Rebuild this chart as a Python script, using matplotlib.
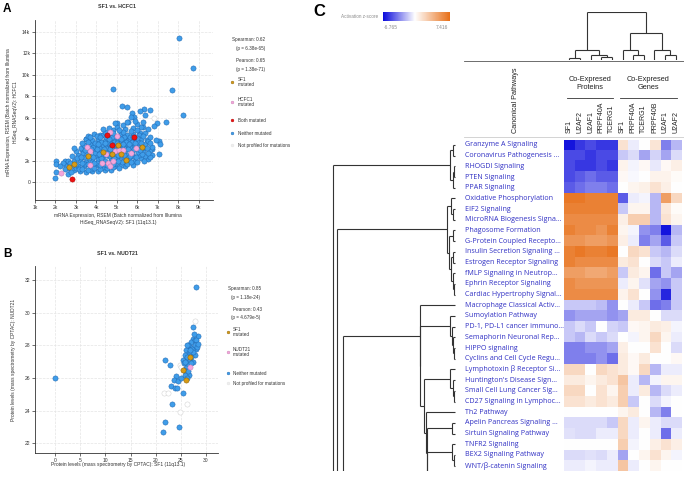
import numpy as np
import matplotlib
matplotlib.use('Agg')
import matplotlib.pyplot as plt
from matplotlib.collections import LineCollection
from matplotlib.colors import LinearSegmentedColormap, TwoSlopeNorm

W, H = 684, 477
SANS = ['Liberation Sans', 'DejaVu Sans']
ROWFONT = ['Open Sans', 'DejaVu Sans']

# ---------------- panel A: SF1 vs HCFC1 (values in thousands) ----------------
a_neither = [
    (8.03, 13.46), (8.74, 10.6), (7.69, 8.6), (4.8, 8.63), (8.22, 6.26), (5.25, 7.07),
    (5.48, 7.0), (6.31, 6.76), (6.6, 6.7), (6.11, 6.6), (5.76, 6.45), (5.84, 6.07),
    (7.4, 5.6), (6.97, 5.48), (6.81, 5.23), (7.04, 3.86), (7.12, 3.5), (7.04, 2.6),
    (6.71, 3.1), (6.45, 3.95), (5.0, 5.48), (5.56, 5.6), (6.28, 5.08), (6.11, 4.58),
    (4.81, 4.89), (5.22, 4.58), (3.48, 4.02), (4.17, 4.42), (5.46, 4.17),
    (1.98, 0.37), (2.05, 0.9), (2.62, 0.78), (2.46, 1.93), (2.5, 1.71), (2.62, 1.31),
    (2.02, 1.93), (2.02, 1.71),
    (2.9, 1.1), (3.2, 1.0), (3.5, 0.95), (3.8, 1.05), (4.1, 1.0), (4.4, 1.1), (4.7, 1.15),
    (5.4, 1.45), (3.0, 1.3), (2.75, 0.9),
    (2.5, 1.5), (2.8, 1.55), (3.1, 1.5), (3.4, 1.45), (3.7, 1.5), (4.0, 1.55), (4.3, 1.4),
    (4.6, 1.5), (4.9, 1.45), (5.2, 1.6), (5.5, 1.7), (5.8, 1.6),
    (2.6, 2.0), (2.9, 1.95), (3.2, 2.05), (3.5, 1.9), (3.8, 2.0), (4.1, 2.1), (4.4, 1.95),
    (4.7, 2.05), (5.0, 2.1), (5.3, 2.0), (5.6, 2.15), (5.9, 2.0), (6.2, 2.2), (6.5, 2.1),
    (2.8, 2.4), (3.1, 2.5), (3.4, 2.35), (3.7, 2.45), (4.0, 2.5), (4.3, 2.4), (4.6, 2.45),
    (4.9, 2.5), (5.2, 2.4), (5.5, 2.5), (5.8, 2.45), (6.1, 2.55), (6.4, 2.4), (6.7, 2.5),
    (3.0, 2.9), (3.3, 3.0), (3.6, 2.85), (3.9, 2.95), (4.2, 3.0), (4.5, 2.9), (4.8, 3.05),
    (5.1, 2.9), (5.4, 3.0), (5.7, 2.95), (6.0, 3.1), (6.3, 2.9), (6.6, 3.0), (2.9, 3.15),
    (3.25, 3.2),
    (3.4, 3.4), (3.7, 3.5), (4.0, 3.35), (4.3, 3.45), (4.6, 3.4), (4.9, 3.5), (5.2, 3.35),
    (5.5, 3.45), (5.8, 3.5), (6.1, 3.4), (6.4, 3.55), (6.9, 3.9), (6.7, 3.3),
    (3.5, 4.0), (3.8, 3.9), (4.1, 4.0), (4.4, 3.85), (4.7, 3.95), (5.0, 4.0), (5.3, 3.9),
    (5.6, 4.05), (5.9, 3.9), (6.2, 4.0), (6.5, 3.85),
    (3.9, 4.5), (4.3, 4.4), (4.6, 4.5), (4.9, 4.3), (5.2, 4.45), (5.5, 4.4), (5.8, 4.5),
    (6.1, 4.35), (6.4, 4.6), (3.6, 4.3),
    (4.6, 5.0), (5.0, 5.1), (5.4, 4.95), (5.8, 5.0), (6.2, 5.1), (6.5, 4.9), (6.0, 5.4),
    (5.3, 5.3), (5.5, 5.6), (5.9, 5.7), (6.3, 5.6), (5.7, 6.1), (6.4, 6.2), (4.9, 5.5),
    (3.15, 1.25), (3.45, 1.7), (3.75, 1.25), (4.05, 1.8), (4.35, 1.7), (4.65, 1.8),
    (4.95, 1.75), (5.25, 1.85), (3.05, 2.25), (3.35, 2.7), (3.65, 2.2), (3.95, 2.7),
    (4.25, 2.25), (4.55, 2.7), (4.85, 2.25), (5.15, 2.7), (5.45, 2.25), (5.75, 2.7),
    (6.05, 2.75), (3.55, 3.15), (3.85, 3.25), (4.15, 3.2), (4.45, 3.15), (4.75, 3.25),
    (5.05, 3.2), (5.35, 3.15), (5.65, 3.25), (5.95, 3.2), (6.25, 3.2), (3.95, 3.65),
    (4.25, 3.7), (4.55, 3.65), (4.85, 3.75), (5.15, 3.65), (5.45, 3.75), (5.75, 3.7),
    (6.05, 3.7), (4.45, 4.15), (4.75, 4.2), (5.05, 4.2), (5.35, 4.15), (5.65, 4.2),
    (4.05, 4.3), (6.3, 4.3), (2.35, 1.75), (2.2, 1.45), (2.45, 1.25),
    (3.3, 1.2), (3.6, 1.15), (3.9, 1.3), (4.2, 1.25), (4.5, 1.3), (4.8, 1.35), (5.1, 1.3),
    (2.7, 1.75), (3.0, 1.7), (3.3, 1.8), (3.6, 1.65), (3.9, 1.75), (4.2, 1.6), (4.5, 1.55),
    (4.8, 1.65), (5.05, 1.95), (5.7, 1.9), (6.0, 1.85), (6.35, 2.0), (6.6, 2.3),
    (3.25, 2.3), (3.55, 2.6), (3.85, 2.3), (4.15, 2.6), (4.45, 2.55), (4.75, 2.6),
    (5.05, 2.55), (5.35, 2.55), (5.65, 2.4), (5.95, 2.3), (6.25, 2.65), (6.5, 2.7),
    (3.45, 2.95), (3.75, 3.05), (4.05, 3.1), (4.35, 3.05), (4.65, 3.1), (4.95, 3.0),
    (5.25, 3.05), (5.55, 3.1), (5.85, 3.05), (6.15, 3.0), (6.45, 3.2), (3.3, 3.6),
    (3.6, 3.7), (4.1, 3.55), (4.4, 3.6), (4.7, 3.55), (5.0, 3.6), (5.3, 3.55), (5.6, 3.55),
    (5.9, 3.6), (6.2, 3.6), (6.6, 3.6), (3.7, 4.15), (4.2, 4.2), (4.6, 4.05), (5.2, 4.05),
    (5.8, 4.2), (6.0, 4.1), (6.6, 4.2), (4.4, 4.65), (4.8, 4.6), (5.3, 4.7), (5.7, 4.75),
    (6.0, 4.8), (4.3, 4.9), (5.1, 4.85),
]
a_sf1_mut = [(2.67, 1.37), (2.9, 1.68), (3.61, 2.4), (4.34, 2.77), (4.77, 2.65),
             (5.07, 3.4), (5.2, 2.62), (5.43, 2.09), (6.21, 3.24)]
a_hcfc1_mut = [(2.25, 0.84), (3.55, 3.24), (3.68, 2.87), (3.68, 1.62), (4.26, 1.78),
               (4.46, 2.65), (4.59, 1.78), (4.69, 4.7), (5.01, 4.33), (4.9, 2.93),
               (5.11, 2.96), (4.81, 1.93), (4.65, 1.53), (5.68, 2.71), (5.95, 3.15),
               (5.32, 2.96)]
a_both_mut = [(2.79, 0.28), (4.52, 4.36), (4.78, 3.43), (5.85, 4.2)]
a_not_prof = [(6.81, 6.0), (5.46, 5.05), (5.6, 4.85)]

# ---------------- panel B: SF1 vs NUDT21 protein levels ----------------
b_neither = [
    (0.0, 26.0), (28.0, 31.6), (27.5, 29.1), (28.5, 28.6), (27.5, 28.4), (27.1, 28.2),
    (27.8, 28.3), (28.1, 28.3), (28.0, 27.8), (26.9, 27.9), (26.5, 28.0), (26.1, 27.7),
    (26.6, 27.5), (27.1, 27.5), (25.8, 27.4), (26.1, 27.1), (26.8, 27.1), (27.5, 27.0),
    (25.4, 27.1), (25.7, 26.9), (26.5, 26.8), (26.1, 26.6), (21.8, 27.1), (22.8, 26.8),
    (24.0, 26.1), (23.6, 25.9), (23.0, 25.5), (23.8, 25.4), (24.2, 25.4), (24.5, 25.8),
    (25.1, 26.0), (25.5, 25.1), (26.7, 26.2), (23.3, 24.4), (21.8, 23.3), (21.4, 22.7),
    (24.6, 23.0), (27.3, 27.8), (27.8, 28.0), (28.3, 27.9), (27.0, 26.9), (26.3, 27.3),
    (25.9, 26.2), (26.3, 26.0), (25.6, 26.5), (27.8, 27.4), (27.4, 27.6), (26.9, 27.7),
    (25.9, 27.0), (26.4, 26.4), (27.0, 27.3), (28.5, 28.1), (27.7, 28.7), (26.2, 28.0),
]
b_sf1_mut = [(26.9, 27.3), (25.5, 26.5), (26.1, 25.9)]
b_nudt21_mut = [(26.9, 26.7)]
b_not_prof = [(27.8, 29.5), (21.6, 25.1), (22.4, 25.1), (24.8, 23.9), (26.3, 24.4),
              (24.8, 26.8), (25.1, 26.7)]

# ---------------- panel C: IPA activation z-scores ----------------
col_names = ['SF1', 'U2AF2', 'U2AF1', 'PRPF40A', 'TCERG1',
             'SF1', 'PRPF40A', 'TCERG1', 'PRPF40B', 'U2AF1', 'U2AF2']
pathways = [
    'Granzyme A Signaling', 'Coronavirus Pathogenesis ...', 'RHOGDI Signaling',
    'PTEN Signaling', 'PPAR Signaling', 'Oxidative Phosphorylation', 'EIF2 Signaling',
    'MicroRNA Biogenesis Signa...', 'Phagosome Formation', 'G-Protein Coupled Recepto...',
    'Insulin Secretion Signaling ...', 'Estrogen Receptor Signaling',
    'fMLP Signaling in Neutrop...', 'Ephrin Receptor Signaling',
    'Cardiac Hypertrophy Signal...', 'Macrophage Classical Activ...', 'Sumoylation Pathway',
    'PD-1, PD-L1 cancer immuno...', 'Semaphorin Neuronal Rep...', 'HIPPO signaling',
    'Cyclins and Cell Cycle Regu...', 'Lymphotoxin β Receptor Si...',
    "Huntington's Disease Sign...", 'Small Cell Lung Cancer Sig...',
    'CD27 Signaling in Lymphoc...', 'Th2 Pathway', 'Apelin Pancreas Signaling ...',
    'Sirtuin Signaling Pathway', 'TNFR2 Signaling', 'BEX2 Signaling Pathway',
    'WNT/β-catenin Signaling',
]
zscores = [
    [-6.5, -5.5, -5.0, -5.5, -5.5, 1.5, -0.5, 0.0, 1.3, -3.5, -2.0],
    [-5.0, -5.0, -5.5, -5.0, -5.0, -1.5, -1.0, -2.5, -1.2, -2.5, -1.0],
    [-5.0, -5.5, -5.5, -5.0, -5.5, 0.6, -0.3, 0.3, -0.6, 0.3, 0.8],
    [-5.0, -4.5, -4.0, -4.5, -4.5, 0.3, -0.2, 0.0, 0.6, 0.6, 0.2],
    [-4.5, -4.0, -3.5, -3.5, -4.0, 0.0, 0.5, 0.7, 1.5, 0.8, 0.0],
    [7.0, 7.0, 6.5, 6.5, 6.5, -4.5, -0.5, -0.3, -2.0, 5.0, 2.0],
    [6.5, 6.5, 6.5, 6.5, 6.5, -1.5, 0.5, 0.5, -2.0, 1.2, 0.2],
    [6.0, 6.0, 6.0, 6.0, 6.0, 0.8, 2.5, 2.5, -2.0, 1.5, 0.5],
    [6.5, 6.0, 6.0, 5.5, 6.5, 0.5, -0.3, -3.0, -3.5, -6.5, -2.0],
    [5.5, 5.5, 5.0, 5.0, 5.5, 0.8, -0.5, -3.5, -2.5, -4.5, -1.5],
    [6.5, 7.0, 6.5, 6.5, 7.0, 0.0, 2.0, 1.5, -1.5, -2.0, -1.0],
    [6.5, 6.0, 6.0, 6.0, 6.0, 1.0, 1.5, 0.0, -1.0, -1.5, -0.5],
    [5.0, 5.0, 4.5, 4.5, 5.0, -1.5, 1.0, 0.5, -4.0, -1.5, -2.5],
    [6.0, 5.5, 5.5, 5.5, 5.5, -0.5, 0.5, -0.8, -2.5, -3.0, -1.5],
    [6.0, 6.0, 6.0, 6.0, 6.0, 0.6, 1.5, 0.0, -3.0, -6.0, -1.5],
    [-1.5, -1.5, -1.5, -1.8, -3.0, 0.0, -0.5, -1.5, -4.0, -3.5, -1.5],
    [-3.0, -2.5, -2.5, -2.5, -3.0, -2.5, 1.0, 1.0, 0.0, -1.0, -1.0],
    [-1.5, -1.0, -1.5, 0.0, -1.2, -1.5, 0.3, 0.5, 1.0, 0.8, -0.3],
    [-1.5, -2.0, -1.0, -1.5, -1.0, 0.0, -0.3, 0.5, 2.0, 0.5, -0.5],
    [-3.5, -3.5, -3.0, -3.0, -2.5, 0.8, 0.0, 0.0, 1.5, 0.0, -1.0],
    [-3.5, -3.5, -3.5, -3.0, -4.0, 1.0, 0.3, 1.0, 0.0, 0.0, 0.3],
    [2.0, 2.0, 0.0, 2.0, 1.5, 1.0, 0.3, 2.0, -2.0, -0.5, -0.5],
    [1.0, 1.0, 0.5, 1.0, 1.5, 3.0, -0.5, -2.0, -0.3, 0.5, 0.5],
    [2.0, 2.0, 0.0, 1.5, 0.5, 2.5, -0.5, 1.0, -2.0, -1.0, -0.5],
    [1.5, 1.5, 1.0, 1.5, 1.0, 2.5, -1.5, 0.0, -1.0, -0.3, 0.0],
    [0.0, 0.0, 0.0, 0.0, 0.0, 0.5, 1.0, 0.0, -2.0, -3.5, 0.0],
    [-1.0, -1.0, -1.0, -1.0, -1.5, 2.0, -0.5, 0.5, -0.5, -1.0, -1.0],
    [-0.8, -1.0, -1.0, -0.5, -0.5, 2.0, -0.5, 0.0, -0.5, -4.0, -0.5],
    [0.0, 0.0, 0.0, 0.0, 0.0, 2.5, -0.3, 0.0, 0.8, 1.5, 0.8],
    [-1.0, -1.0, -0.8, -1.0, -0.5, -2.5, 0.0, 0.5, 1.5, 0.5, -0.3],
    [-0.5, -0.5, -0.3, -0.5, -0.5, 3.0, -0.5, 0.0, 0.5, 0.0, 0.0],
]
z_min, z_max = -6.765, 7.416

# dendrograms: (left, right, height); plain numbers are leaf indices.
# leaves 33.5 and 100 stand for rows cut off below the visible table
c1 = ((0, 1, 2), ((2, 3, 1), 4, 2), 5)
c2 = ((5, (6, 7, 2), 4), ((8, 9, 2), ((10, 11, 2), (12, (13, 14, 1), 2), 4), 6), 8)
sumo = (16, (17, (18, (19, 20, 1), 2), 3), 5)
lympho = (21, (22, (23, 24, 1), 2), 5)
chain = (25, ((26, 27, 3), ((28, (29, 30, 1), 3), 33.5, 28), 28.5), 29)
c3 = (15, (sumo, (lympho, chain, 31), 35), 35.5)
row_tree = (c1, (c2, (c3, 100, 112), 118), 122)
col_tree = (((0, 1, 2), (2, (3, 4, 3), 5), 10), ((5, (6, 7, 5), 10), (8, (9, 10, 5), 10), 27), 48)


def box(x0, y0, x1, y1):
    return [x0 / W, 1 - y1 / H, (x1 - x0) / W, (y1 - y0) / H]


def tree_segments(node, segs):
    """Collect the elbow segments of a dendrogram as (pos, height) pairs."""
    if not isinstance(node, tuple):
        return node, 0
    left, right, h = node
    pl, hl = tree_segments(left, segs)
    pr, hr = tree_segments(right, segs)
    segs.append([(pl, hl), (pl, h)])
    segs.append([(pl, h), (pr, h)])
    segs.append([(pr, h), (pr, hr)])
    return (pl + pr) / 2, h


def draw_tree(ax, tree, horizontal):
    segs = []
    tree_segments(tree, segs)
    if horizontal:
        segs = [[(h, p) for p, h in s] for s in segs]
    ax.add_collection(LineCollection(segs, colors='#333333', linewidths=0.8))


def scatter_set(ax, pts, face, edge, z):
    xs = [p[0] for p in pts]
    ys = [p[1] for p in pts]
    ax.scatter(xs, ys, s=14, c=face, edgecolors=edge, linewidths=0.35, zorder=z)


def style_axes(ax):
    for s in ['top', 'right']:
        ax.spines[s].set_visible(False)
    for s in ['left', 'bottom']:
        ax.spines[s].set_linewidth(0.6)
        ax.spines[s].set_color('#333333')
    ax.tick_params(labelsize=3.6, length=2, width=0.5, pad=1.5, colors='#333333')
    ax.grid(True, color='#e4e4e4', linestyle='--', lw=0.5)
    ax.set_axisbelow(True)
    for lab in ax.get_xticklabels() + ax.get_yticklabels():
        lab.set_family(SANS)


fig = plt.figure(figsize=((W + 0.01) / 100, (H + 0.01) / 100), dpi=100)
ov = fig.add_axes([0, 0, 1, 1])
ov.set_xlim(0, W)
ov.set_ylim(H, 0)
ov.axis('off')

BLUE, BLUE_E = '#3f9de9', '#1e66b0'
GOLD, GOLD_E = '#d79b16', '#8a6108'
PINK, PINK_E = '#f4a6dc', '#c77fb0'
RED, RED_E = '#ee1111', '#aa0000'
NP, NP_E = '#ffffff', '#cfcfcf'

# ---- panel A ----
axa = fig.add_axes(box(35, 20, 213, 200))
scatter_set(axa, a_not_prof, NP, NP_E, 2)
scatter_set(axa, a_neither, BLUE, BLUE_E, 3)
scatter_set(axa, a_hcfc1_mut, PINK, PINK_E, 4)
scatter_set(axa, a_sf1_mut, GOLD, GOLD_E, 5)
scatter_set(axa, a_both_mut, RED, RED_E, 6)
axa.set_xlim(1, 9.7)
axa.set_ylim(-1.68, 15.1)
axa.set_xticks(range(1, 10))
axa.set_xticklabels([f'{v}k' for v in range(1, 10)])
axa.set_yticks(range(0, 15, 2))
axa.set_yticklabels(['0'] + [f'{v}k' for v in range(2, 15, 2)])
style_axes(axa)

# ---- panel B ----
axb = fig.add_axes(box(35, 266, 218, 453))
scatter_set(axb, b_not_prof, NP, NP_E, 2)
scatter_set(axb, b_neither, BLUE, BLUE_E, 3)
scatter_set(axb, b_nudt21_mut, PINK, PINK_E, 4)
scatter_set(axb, b_sf1_mut, GOLD, GOLD_E, 5)
axb.set_xlim(-4, 32.4)
axb.set_ylim(21.4, 32.86)
axb.set_xticks(range(0, 31, 5))
axb.set_yticks(range(22, 33, 2))
style_axes(axb)

txt = dict(family=SANS, color='#333333')
ov.text(7, 9, 'A', fontsize=8.5, fontweight='bold', ha='center', va='center', family=SANS)
ov.text(7, 254, 'B', fontsize=8.5, fontweight='bold', ha='center', va='center', family=SANS)
ov.text(117, 6, 'SF1 vs. HCFC1', fontsize=3.8, fontweight='bold', ha='center', va='center', **txt)
ov.text(117, 253, 'SF1 vs. NUDT21', fontsize=3.8, fontweight='bold', ha='center', va='center', **txt)
ov.text(118, 219, 'mRNA Expression, RSEM (Batch normalized from Illumina\nHiSeq_RNASeqV2): SF1 (11q13.1)',
        fontsize=3.5, ha='center', va='center', linespacing=1.3, **txt)
ov.text(12, 112, 'mRNA Expression, RSEM (Batch normalized from Illumina\nHiSeq_RNASeqV2): HCFC1',
        fontsize=3.5, ha='center', va='center', rotation=90, linespacing=1.3, **txt)
ov.text(118, 464, 'Protein levels (mass spectrometry by CPTAC): SF1 (11q13.1)',
        fontsize=3.5, ha='center', va='center', **txt)
ov.text(13, 360, 'Protein levels (mass spectrometry by CPTAC): NUDT21',
        fontsize=3.5, ha='center', va='center', rotation=90, **txt)

# legends
leg = dict(fontsize=3.3, va='center', ha='left', **txt)
ov.text(232, 39, 'Spearman: 0.62', **leg)
ov.text(236, 48, '(p = 6.38e-65)', **leg)
ov.text(236, 60, 'Pearson: 0.65', **leg)
ov.text(236, 69, '(p = 1.38e-71)', **leg)
ov.text(238, 82, 'SF1\nmutated', linespacing=1.1, **leg)
ov.text(238, 102, 'HCFC1\nmutated', linespacing=1.1, **leg)
ov.text(238, 120, 'Both mutated', **leg)
ov.text(238, 133, 'Neither mutated', **leg)
ov.text(238, 145, 'Not profiled for mutations', **leg)
for y, f, e in [(82, GOLD, GOLD_E), (102, PINK, PINK_E), (120, RED, RED_E),
                (133, BLUE, BLUE_E), (145, '#eeeeee', '#e0e0e0')]:
    ov.scatter([232], [y], s=4, c=f, edgecolors=e, linewidths=0.3)

ov.text(228, 288, 'Spearman: 0.85', **leg)
ov.text(231, 297, '(p = 1.18e-24)', **leg)
ov.text(233, 309, 'Pearson: 0.43', **leg)
ov.text(231, 317, '(p = 4.679e-5)', **leg)
ov.text(233, 332, 'SF1\nmutated', linespacing=1.1, **leg)
ov.text(233, 352, 'NUDT21\nmutated', linespacing=1.1, **leg)
ov.text(233, 373, 'Neither mutated', **leg)
ov.text(233, 383, 'Not profiled for mutations', **leg)
for y, f, e in [(332, GOLD, GOLD_E), (352, PINK, PINK_E), (373, BLUE, BLUE_E),
                (383, '#eeeeee', '#e0e0e0')]:
    ov.scatter([228], [y], s=4, c=f, edgecolors=e, linewidths=0.3)

# ---- panel C ----
cmap = LinearSegmentedColormap.from_list('act', ['#0b0bdc', '#ffffff', '#e8711a'])
norm = TwoSlopeNorm(vmin=z_min, vcenter=0, vmax=z_max)

ov.text(319, 11, 'C', fontsize=12, fontweight='bold', ha='center', va='center', family=SANS)
ov.text(378, 16, 'Activation z-score', fontsize=3.3, ha='right', va='center',
        family=SANS, color='#8a8a8a')
ov.text(391, 27, f'{z_min:.3f}', fontsize=3.5, ha='center', va='center', family=SANS, color='#8a8a8a')
ov.text(442, 27, f'{z_max:.3f}', fontsize=3.5, ha='center', va='center', family=SANS, color='#8a8a8a')
cax = fig.add_axes(box(383, 12, 449, 21))
cax.imshow(np.linspace(z_min, z_max, 256)[None, :], cmap=cmap, norm=norm, aspect='auto')
cax.axis('off')

axh = fig.add_axes(box(564, 139.6, 681, 471))
axh.imshow(np.array(zscores), cmap=cmap, norm=norm, aspect='auto', interpolation='nearest')
axh.axis('off')
for i, name in enumerate(pathways):
    axh.text(-0.846, i, name, transform=axh.get_yaxis_transform(), fontsize=5.1,
             ha='left', va='center', color='#3030c4', family=ROWFONT)
for j, name in enumerate(col_names):
    axh.text(j, -1.12, name, rotation=90, fontsize=5.0, ha='center', va='bottom',
             color='#222222', family=SANS)

axcd = fig.add_axes(box(564, 12, 681, 60))
draw_tree(axcd, col_tree, horizontal=False)
axcd.set_xlim(-0.5, len(col_names) - 0.5)
axcd.set_ylim(0, 48)
axcd.axis('off')

axrd = fig.add_axes(box(328, 139.6, 456, 471))
draw_tree(axrd, row_tree, horizontal=True)
axrd.set_xlim(127, -1)
axrd.set_ylim(len(pathways) - 0.5, -0.5)
axrd.axis('off')

ov.plot([464, 684], [61, 61], color='#555555', lw=0.6)
ov.plot([464, 684], [137, 137], color='#cccccc', lw=0.6)
ov.plot([567, 613], [98, 98], color='#333333', lw=0.6)
ov.plot([620, 677], [98, 98], color='#333333', lw=0.6)
ov.text(590, 83.5, 'Co-Expresed\nProteins', fontsize=5.3, ha='center', va='center',
        linespacing=1.25, family=SANS, color='#222222')
ov.text(648, 83.5, 'Co-Expresed\nGenes', fontsize=5.3, ha='center', va='center',
        linespacing=1.25, family=SANS, color='#222222')
ov.text(515, 100, 'Canonical Pathways', fontsize=5.2, rotation=90, ha='center', va='center',
        family=SANS, color='#222222')

fig.savefig('out.png', dpi=100)
